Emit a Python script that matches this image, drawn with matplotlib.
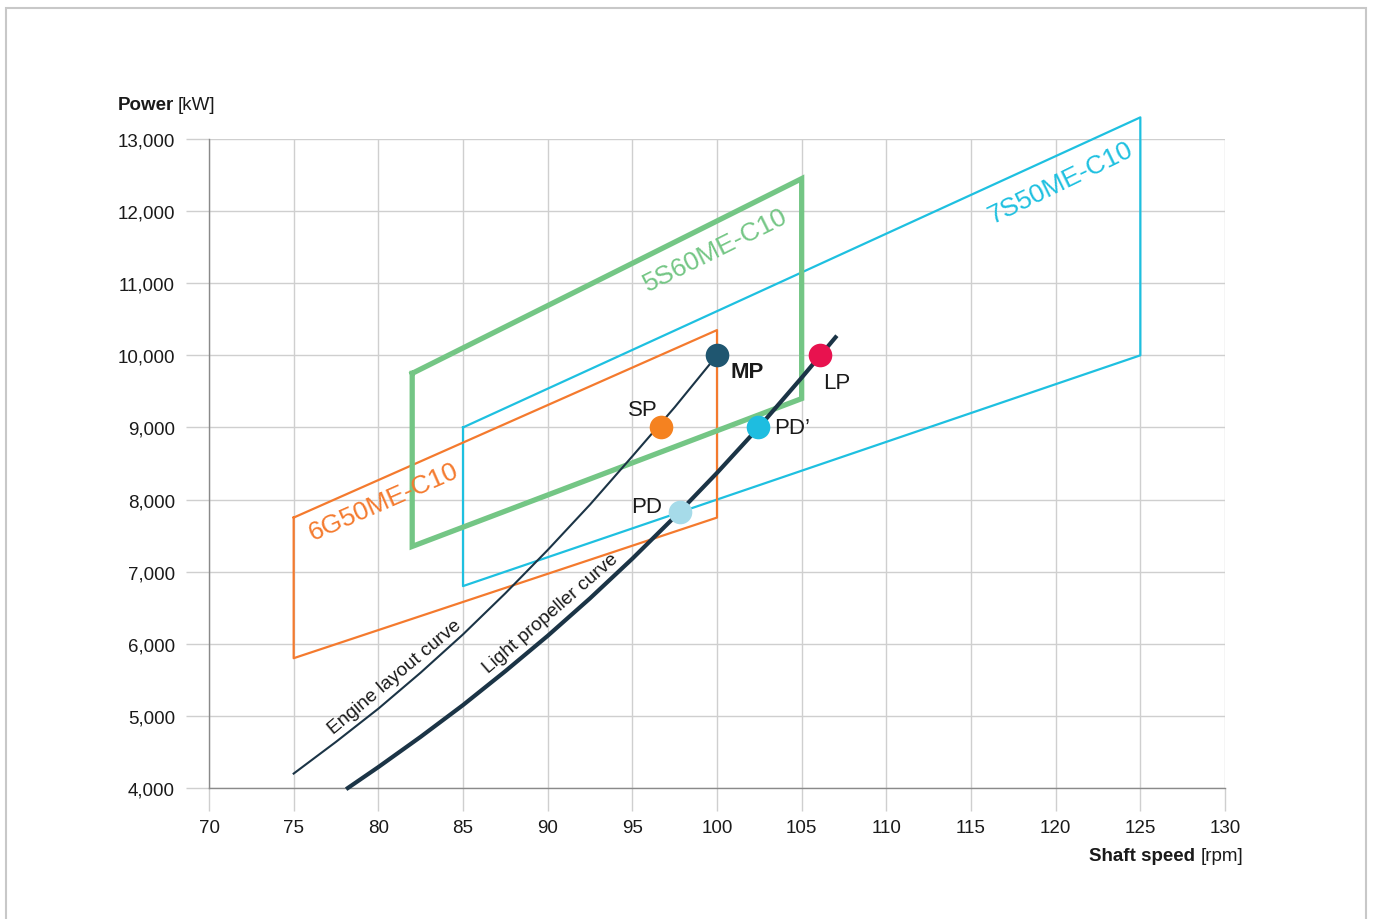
import matplotlib as mpl
mpl.use('Agg')
import matplotlib.pyplot as plt
from matplotlib.patches import Rectangle

plt.rcParams['font.family'] = ['Liberation Sans', 'DejaVu Sans']

# engine layout boxes: corners (rpm, kW) TL, TR, BR, BL
box_6g50_x = [75, 100, 100, 75, 75]
box_6g50_y = [7750, 10350, 7750, 5800, 7750]
box_5s60_x = [82, 105, 105, 82, 82]
box_5s60_y = [9750, 12450, 9400, 7350, 9750]
box_7s50_x = [85, 125, 125, 85, 85]
box_7s50_y = [9000, 13300, 10000, 6800, 9000]

# curves
engine_x = [75, 77.5, 80, 82.5, 85, 87.5, 90, 92.5, 95, 97.5, 100]
engine_y = [4200, 4640, 5100, 5600, 6130, 6700, 7300, 7930, 8600, 9280, 10000]
prop_x = [78.2, 80, 82.5, 85, 87.5, 90, 92.5, 95, 97.5, 100, 102.5, 105, 107]
prop_y = [4000, 4290, 4710, 5150, 5620, 6110, 6630, 7180, 7760, 8370, 9010, 9690, 10250]

# operating points
pt_names = ['MP', 'SP', 'PD', "PD\u2019", 'LP']
pt_x = [100, 96.7, 97.8, 102.4, 106.1]
pt_y = [10000, 9000, 7830, 9000, 10000]
pt_colors = ['#1f5670', '#f58220', '#a6dbe9', '#1ebde0', '#e8124f']

x_ticks = list(range(70, 131, 5))
y_ticks = list(range(4000, 13001, 1000))

c_orange = '#f47a2e'
c_green = '#74c685'
c_cyan = '#1ec0e0'
c_navy = '#1b3446'
c_grid = '#cfcfcf'

fig = plt.figure(figsize=(13.73, 9.2), dpi=100)
ax = fig.add_axes([209/1373, 1-789/920, (1225-209)/1373, (789-140)/920])

ax.set_xlim(70, 130)
ax.set_ylim(4000, 13000)
ax.set_xticks(x_ticks)
ax.set_yticks(y_ticks)
ax.set_yticklabels([f'{v:,}' for v in y_ticks])
ax.grid(True, color=c_grid, lw=1.0)
ax.set_axisbelow(True)
for s in ['top', 'right']:
    ax.spines[s].set_visible(False)
for s in ['left', 'bottom']:
    ax.spines[s].set_color('#8a8a8a')
    ax.spines[s].set_linewidth(1.0)
ax.tick_params(axis='y', length=16.5, width=1.0, color=c_grid, pad=8, labelsize=13.5, labelcolor='#1a1a1a')
ax.tick_params(axis='x', length=16.5, width=1.0, color=c_grid, pad=5.5, labelsize=13.5, labelcolor='#1a1a1a')

ax.plot(box_7s50_x, box_7s50_y, color=c_cyan, lw=1.6, clip_on=False, zorder=3)
ax.plot(box_6g50_x, box_6g50_y, color=c_orange, lw=1.6, clip_on=False, zorder=3)
ax.plot(box_5s60_x, box_5s60_y, color=c_green, lw=3.8, clip_on=False, zorder=3,
        solid_joinstyle='miter')

ax.plot(engine_x, engine_y, color=c_navy, lw=1.5, zorder=4, clip_on=False)
ax.plot(prop_x, prop_y, color=c_navy, lw=3.0, zorder=4, clip_on=False)

for n, x, y, c in zip(pt_names, pt_x, pt_y, pt_colors):
    ax.plot(x, y, 'o', ms=17, color=c, mec='none', zorder=6, clip_on=False)

lbl = dict(fontsize=16, color='#1a1a1a', textcoords='offset points', va='center')
ax.annotate('MP', (pt_x[0], pt_y[0]), xytext=(22, -11.5), ha='center', fontweight='bold', **lbl)
ax.annotate('SP', (pt_x[1], pt_y[1]), xytext=(-13, 13), ha='center', **lbl)
ax.annotate('PD', (pt_x[2], pt_y[2]), xytext=(-13, 3.5), ha='right', **lbl)
ax.annotate("PD\u2019", (pt_x[3], pt_y[3]), xytext=(12, 0), ha='left', **lbl)
ax.annotate('LP', (pt_x[4], pt_y[4]), xytext=(12, -19.5), ha='center', **lbl)

rot = dict(ha='center', va='center', rotation_mode='anchor', zorder=5)
ax.text(80.3, 7970, '6G50ME-C10', color=c_orange, fontsize=19, rotation=23.7, **rot)
ax.text(99.9, 11470, '5S60ME-C10', color=c_green, fontsize=19, rotation=26.5, **rot)
ax.text(120.3, 12400, '7S50ME-C10', color=c_cyan, fontsize=19, rotation=26, **rot)
ax.text(81.0, 5550, 'Engine layout curve', color='#1a1a1a', fontsize=13.8, rotation=40, **rot)
ax.text(90.2, 6430, 'Light propeller curve', color='#1a1a1a', fontsize=13.8, rotation=41, **rot)

# axis titles, bold name + regular unit
fig.text(118/1373, 1-106/920, 'Power', fontsize=13.5, fontweight='bold', color='#1a1a1a', va='center')
fig.text(178/1373, 1-106/920, '[kW]', fontsize=13.5, color='#1a1a1a', va='center')
fig.text(1195/1373, 1-857/920, 'Shaft speed', fontsize=13.5, fontweight='bold', color='#1a1a1a', va='center', ha='right')
fig.text(1243/1373, 1-857/920, '[rpm]', fontsize=13.5, color='#1a1a1a', va='center', ha='right')

# light frame around the figure
fig.patches.append(Rectangle((6/1373, -0.02), 1360/1373, (920-9)/920 + 0.02,
                             transform=fig.transFigure, fill=False,
                             edgecolor='#c8c8c8', lw=1.5))

fig.savefig('out.png', dpi=100)
